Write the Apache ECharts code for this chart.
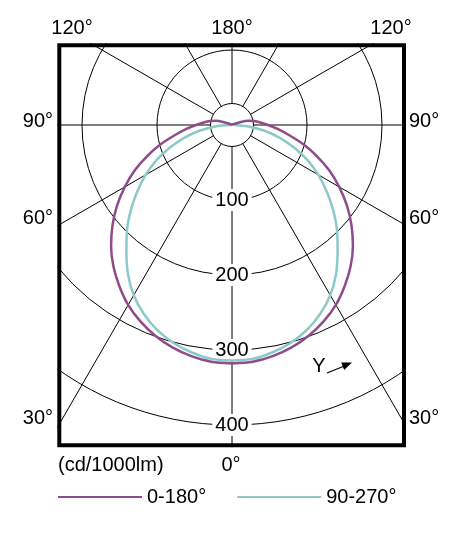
<!DOCTYPE html>
<html>
<head>
<meta charset="utf-8">
<script src="https://cdn.jsdelivr.net/npm/echarts@6/dist/echarts.min.js"></script>
<style>
html,body{margin:0;padding:0;background:#fff;}
#chart{width:456px;height:537px;}
</style>
</head>
<body>
<div id="chart"></div>
<script>
// ---- data ----
const angles = [0, 5, 10, 15, 20, 25, 30, 35, 40, 45, 50, 55, 60, 65, 70, 75, 80, 85, 90, 95, 100, 105, 110, 115, 120, 135, 150, 165, 180];
const plane0_180 = [318, 317, 313, 307, 299, 289, 277, 262, 246, 228, 208, 187, 165, 143, 120, 98, 77, 61, 48, 38, 30, 22, 10, 4, 2, 1, 1, 1, 1];
const plane90_270 = [314, 313, 308, 301, 291, 278, 262, 242, 219, 198, 176, 154, 133, 111, 88, 66, 44, 22, 4, 1, 1, 1, 1, 1, 1, 1, 1, 1, 1];
const seriesNames = ['0-180°', '90-270°'];
const radiusTicks = [100, 200, 300, 400];
const topLabels = ['120°', '180°', '120°'];
const sideLabels = ['90°', '60°', '30°'];
const bottomLabel = '0°';
const unitLabel = '(cd/1000lm)';
const dirLabel = 'Y';

// ---- build closed curves (mirror left half to right half) ----
function closedCurve(vals) {
  const pts = [];
  for (let i = 0; i < angles.length; i++) pts.push([vals[i], angles[i]]);
  for (let i = angles.length - 2; i >= 0; i--) pts.push([vals[i], 360 - angles[i]]);
  return pts;
}

const FONT = '"Liberation Sans", Arial, sans-serif';
const cx = 232, cy = 125, pxPer100 = 75;
const boxL = 59.3, boxR = 404, boxT = 45.3, boxB = 445.3;

const chart = echarts.init(document.getElementById('chart'));

const txt = (x, y, s, align, z) => ({
  type: 'text', x: x, y: y, z: z || 12,
  style: { text: s, fill: '#000', font: '20px ' + FONT, textAlign: align || 'center', textVerticalAlign: 'middle' }
});

const graphics = [
  // centre small circle (below series)
  { type: 'circle', shape: { cx: cx, cy: cy, r: 21.5 }, z: 1, style: { fill: '#fff', stroke: '#000', lineWidth: 1 } },
  // masks outside the frame
  { type: 'rect', shape: { x: 0, y: 0, width: 456, height: boxT - 2 }, z: 10, style: { fill: '#fff' } },
  { type: 'rect', shape: { x: 0, y: boxB + 2, width: 456, height: 537 - boxB }, z: 10, style: { fill: '#fff' } },
  { type: 'rect', shape: { x: 0, y: 0, width: boxL - 2, height: 537 }, z: 10, style: { fill: '#fff' } },
  { type: 'rect', shape: { x: boxR + 2, y: 0, width: 456 - boxR, height: 537 }, z: 10, style: { fill: '#fff' } },
  // frame
  { type: 'rect', shape: { x: boxL, y: boxT, width: boxR - boxL, height: boxB - boxT }, z: 11, style: { fill: null, stroke: '#000', lineWidth: 4 } },
  // top labels
  txt(72, 28, topLabels[0]), txt(232, 28, topLabels[1]), txt(391, 28, topLabels[2]),
  // side labels
  txt(53, 121, sideLabels[0], 'right'), txt(53, 218, sideLabels[1], 'right'), txt(53, 418, sideLabels[2], 'right'),
  txt(409, 121, sideLabels[0], 'left'), txt(409, 218, sideLabels[1], 'left'), txt(409, 418, sideLabels[2], 'left'),
  // bottom
  txt(231, 465, bottomLabel), txt(58, 465, unitLabel, 'left'),
  // Y direction arrow
  txt(319, 366, dirLabel, 'center', 5),
  { type: 'line', shape: { x1: 327, y1: 373, x2: 345, y2: 365.8 }, z: 5, style: { stroke: '#000', lineWidth: 1.2 } },
  { type: 'polygon', shape: { points: [[352, 362.5], [344.2, 369.9], [341.2, 362.5]] }, z: 5, style: { fill: '#000' } }
];

chart.setOption({
  animation: false,
  backgroundColor: '#fff',
  polar: { center: [cx, cy], radius: pxPer100 * 5 },
  angleAxis: {
    type: 'value', min: 0, max: 360, interval: 30, startAngle: 270, clockwise: true, z: 0,
    axisLine: { show: false }, axisTick: { show: false }, axisLabel: { show: false },
    splitLine: { show: true, lineStyle: { color: '#000', width: 1 } }
  },
  radiusAxis: {
    type: 'value', min: 0, max: 500, interval: 100, z: 1,
    axisLine: { show: false }, axisTick: { show: false },
    splitLine: { show: true, lineStyle: { color: '#000', width: 1 } },
    axisLabel: {
      margin: 0, align: 'center', verticalAlign: 'middle',
      color: '#000', fontSize: 20, fontFamily: FONT,
      backgroundColor: '#fff', padding: [1, 3],
      formatter: v => radiusTicks.indexOf(v) >= 0 ? String(v) : ''
    }
  },
  legend: {
    left: 58, top: 487, padding: 0, itemGap: 31, itemWidth: 84, itemHeight: 2, icon: 'rect', z: 12,
    textStyle: { color: '#000', fontSize: 20, fontFamily: FONT },
    data: seriesNames
  },
  series: [
    { name: seriesNames[0], type: 'line', coordinateSystem: 'polar', data: closedCurve(plane0_180), smooth: 0.3, symbol: 'none', z: 3,
      lineStyle: { color: '#8e4c8c', width: 2.5 }, itemStyle: { color: '#8e4c8c' } },
    { name: seriesNames[1], type: 'line', coordinateSystem: 'polar', data: closedCurve(plane90_270), smooth: 0.3, symbol: 'none', z: 2,
      lineStyle: { color: '#8dc9c8', width: 2.5 }, itemStyle: { color: '#8dc9c8' } }
  ],
  graphic: { elements: graphics }
});
</script>
</body>
</html>
